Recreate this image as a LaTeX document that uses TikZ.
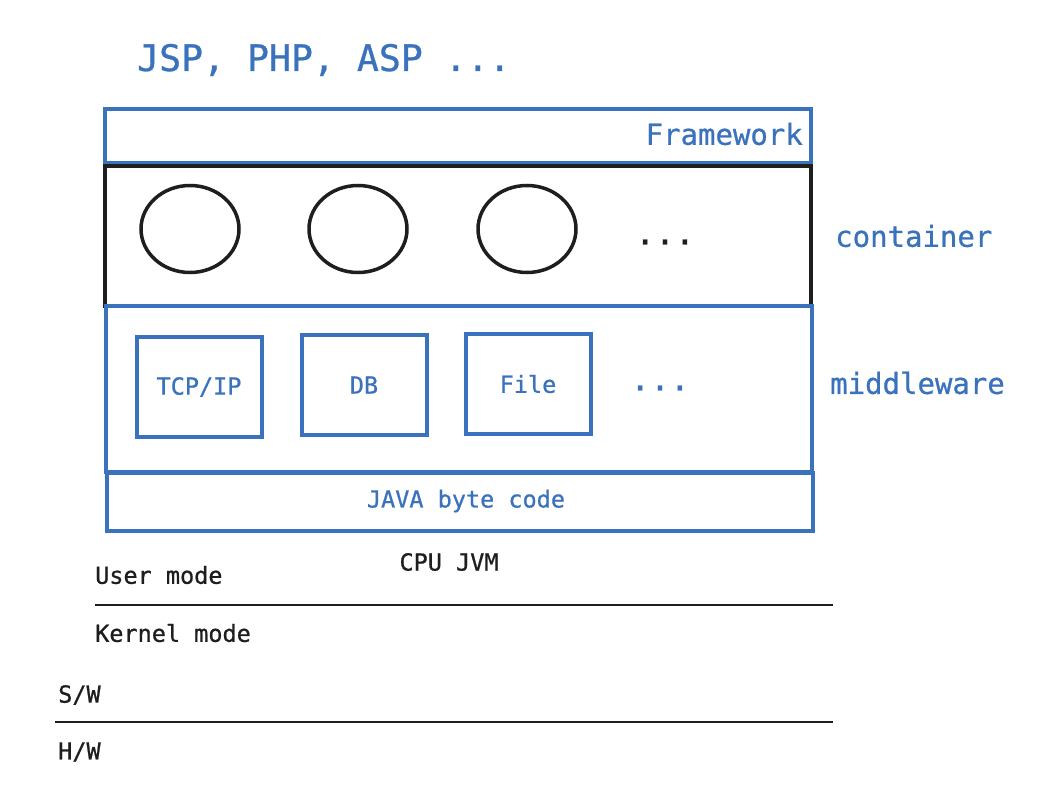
\documentclass[tikz,border=0pt]{standalone}
\usepackage{fontspec}
\newfontfamily\sketchmono{DejaVu Sans Mono}[FakeBold=0.8]
\usetikzlibrary{positioning,shapes.geometric}
\definecolor{sketchblue}{HTML}{3A72BC}
\definecolor{inkblack}{HTML}{1E1E1E}

\tikzset{
  layer/.style={draw=sketchblue, line width=3.5pt, minimum width=706pt, inner sep=0pt},
  unit/.style={draw=sketchblue, line width=4pt, minimum width=125pt, minimum height=100pt,
    text=sketchblue, font=\smallfont},
  bubble/.style={draw=inkblack, ellipse, line width=3.5pt, minimum width=98pt, minimum height=87pt},
  bluetxt/.style={text=sketchblue, inner sep=0pt},
  blacktxt/.style={text=inkblack, inner sep=0pt}
}
\newcommand{\smallfont}{\sketchmono\fontsize{23.5}{28}\selectfont}
\newcommand{\midfont}{\sketchmono\fontsize{29}{34}\selectfont}
\newcommand{\bigfont}{\sketchmono\fontsize{36.5}{42}\selectfont}
\newcommand{\dotsfont}{\sketchmono\fontsize{33}{38}\selectfont}

\begin{document}
\begin{tikzpicture}[x=1pt,y=-1pt]
    \useasboundingbox (0,0) rectangle (1046,794);
    % title
    \node[bluetxt, font=\bigfont, anchor=west] (langs) at (137,60) {JSP, PHP, ASP ...};
    % layers
    \node[layer, minimum height=54pt] (framework) at (458,136) {};
    \node[layer, draw=inkblack, minimum height=140pt] (container) at (458,236) {};
    \node[layer, minimum height=166pt] (middleware) at (459,389) {};
    \node[layer, minimum height=58pt] (bytecode) at (460,502) {};
    \node[bluetxt, font=\midfont, anchor=east] (fwlabel) at (803,134) {Framework};
    \node[bluetxt, font=\midfont, anchor=west] (ctlabel) at (835,236) {container};
    \node[bluetxt, font=\midfont, anchor=west] (mwlabel) at (830,383) {middleware};
    \node[bluetxt, font=\smallfont] (bclabel) at (466,501) {JAVA byte code};
    % containers
    \foreach \x/\n in {190/a,358/b,527/c}
        \node[bubble] (bubble\n) at (\x,229) {};
    \node[blacktxt, font=\dotsfont] (ctdots) at (665,242) {...};
    % middleware units
    \node[unit] (tcp) at (199,387) {TCP/IP};
    \node[unit] (db) at (364,385) {DB};
    \node[unit] (file) at (528,384) {File};
    \node[bluetxt, font=\dotsfont] (mwdots) at (660,388) {...};
    % modes
    \node[blacktxt, font=\smallfont] (cpu) at (449,562) {CPU JVM};
    \node[blacktxt, font=\smallfont, anchor=west] (user) at (95,575) {User mode};
    \node[blacktxt, font=\smallfont, anchor=west] (kernel) at (95,633) {Kernel mode};
    \node[blacktxt, font=\smallfont, anchor=west] (sw) at (58,695) {S/W};
    \node[blacktxt, font=\smallfont, anchor=west] (hw) at (58,752) {H/W};
    \draw[inkblack, line width=1.5pt] (95,605) -- (833,605);
    \draw[inkblack, line width=1.5pt] (55,722) -- (833,722);
\end{tikzpicture}
\end{document}
